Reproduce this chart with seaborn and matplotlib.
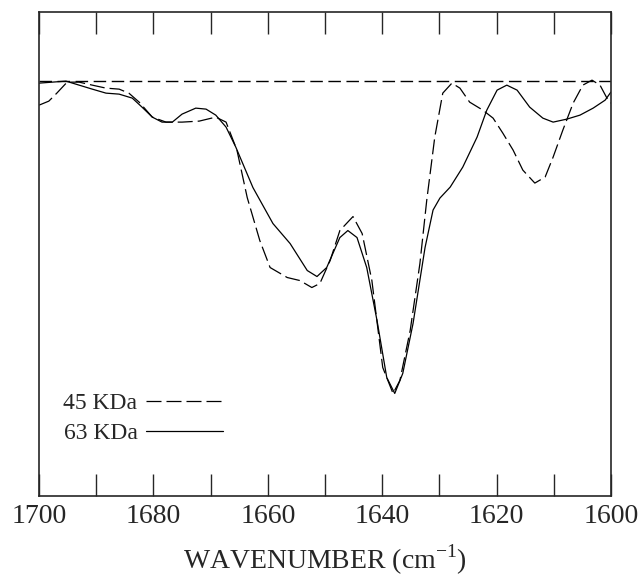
import numpy as np
import pandas as pd
import matplotlib
matplotlib.use("Agg")
import matplotlib.pyplot as plt
import seaborn as sns

# wavenumbers (cm-1) and relative absorbance
wn_45 = [1700.0, 1698.3, 1696.9, 1695.1, 1693.0, 1690.7, 1688.3, 1686.0, 1684.3, 1682.5,
         1680.2, 1677.8, 1675.0, 1672.0, 1669.1, 1667.3, 1665.4, 1663.6, 1661.4, 1659.6,
         1656.6, 1654.4, 1652.3, 1650.9, 1649.1, 1647.4, 1645.1, 1643.5, 1641.8, 1639.9,
         1638.1, 1636.9, 1635.1, 1633.4, 1632.2, 1630.8, 1629.4, 1627.8, 1626.4, 1624.7,
         1622.4, 1620.6, 1618.9, 1617.1, 1615.4, 1613.3, 1611.5, 1610.1, 1608.4, 1606.6,
         1604.9, 1603.3, 1601.9, 1600.5, 1600.0]
ab_45 = [-24.5, -20.5, -12.5, -1.5, -1.5, -4.5, -7.5, -8.5, -12.5, -21.5,
         -36.5, -41.5, -41.5, -40.5, -36.5, -41.5, -69.5, -117, -160, -187,
         -197, -200, -207, -203, -180, -150, -136, -153, -200, -287,
         -313, -300, -250, -183, -119.5, -56.5, -12.5, -2.5, -7.5, -21.5,
         -29.5, -37.5, -52.5, -69.5, -89.5, -102.5, -96.5, -76.5, -49.5, -22.5,
         -4.5, 0.5, -4.5, -19.5, -22.5]

wn_63 = [1700.0, 1697.7, 1695.3, 1693.0, 1690.7, 1688.3, 1686.0, 1683.7, 1682.0, 1680.2,
         1678.5, 1676.7, 1675.0, 1672.6, 1670.8, 1669.1, 1667.3, 1665.6, 1662.6, 1659.1,
         1656.1, 1653.1, 1651.4, 1649.7, 1647.4, 1646.0, 1644.4, 1642.7, 1640.9, 1639.2,
         1637.8, 1636.4, 1634.6, 1632.5, 1631.1, 1629.9, 1628.1, 1625.9, 1623.4, 1621.7,
         1619.9, 1618.2, 1616.4, 1614.2, 1611.9, 1610.1, 1607.7, 1605.4, 1603.1, 1601.0,
         1600.0]
ab_63 = [-2.5, -1.5, -0.5, -4.5, -8.5, -12.5, -13.5, -17.5, -26.5, -36.5,
         -41.5, -41.5, -33.5, -27.5, -28.5, -34.5, -46.5, -66.5, -107, -143,
         -163, -190, -196, -187, -157, -150, -157, -187, -240, -297,
         -313, -293, -243, -167, -129.5, -117.5, -106.5, -86.5, -56.5, -29.5,
         -9.5, -4.5, -9.5, -26.5, -37.5, -41.5, -38.5, -34.5, -27.5, -19.5,
         -11.5]

labels = ["45 KDa", "63 KDa"]

df = pd.concat([
    pd.DataFrame({"wn": wn_45, "ab": ab_45, "sample": labels[0]}),
    pd.DataFrame({"wn": wn_63, "ab": ab_63, "sample": labels[1]}),
])

sns.set_style("ticks")
plt.rcParams["font.family"] = ["Liberation Serif", "DejaVu Serif"]
plt.rcParams["mathtext.fontset"] = "custom"
plt.rcParams["mathtext.rm"] = "Liberation Serif"

fig = plt.figure(figsize=(6.41, 5.80), dpi=100)
ax = fig.add_axes([0.061, 0.145, 0.892, 0.834])

sns.lineplot(data=df, x="wn", y="ab", style="sample", style_order=labels,
             dashes={labels[0]: (12, 4), labels[1]: ""}, color="black",
             linewidth=0.9, sort=False, estimator=None, ax=ax)

ax.axhline(0, color="black", linewidth=1.0, dashes=(9, 4))

ax.set_xlim(1700, 1600)
ax.set_ylim(-415.5, 68.5)
ax.set_xticks(np.arange(1700, 1599, -20))
ax.set_xticks(np.arange(1690, 1600, -20), minor=True)
ax.tick_params(axis="x", which="both", direction="in", top=True, bottom=True,
               length=16, width=1, labelsize=20, pad=6)
ax.set_yticks([])
for s in ax.spines.values():
    s.set_linewidth(1.2)

ax.set_xlabel(r"WAVENUMBER (cm$^{\mathregular{-1}}$)", fontsize=20, labelpad=10)
ax.set_ylabel("")

ax.legend(loc="lower left", bbox_to_anchor=(0.026, 0.088), borderaxespad=0,
          frameon=False, markerfirst=False, handlelength=3.26, fontsize=17,
          labelspacing=0.35, handletextpad=0.38)

fig.savefig("out.png", dpi=100)
